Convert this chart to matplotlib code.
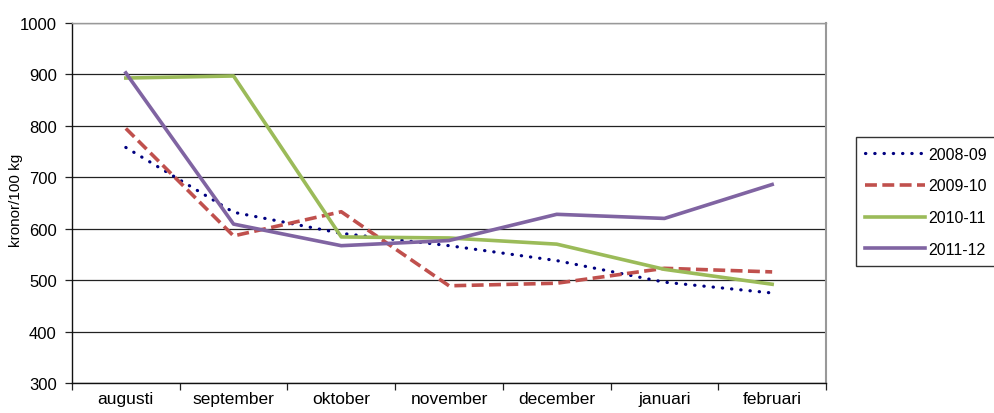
import matplotlib
matplotlib.use("Agg")
import matplotlib.pyplot as plt

plt.rcParams['font.family'] = ['Liberation Sans', 'DejaVu Sans']

months = ["augusti", "september", "oktober", "november", "december", "januari", "februari"]
s2008 = [758, 632, 591, 567, 538, 496, 475]
s2009 = [795, 586, 633, 489, 494, 523, 516]
s2010 = [893, 897, 584, 582, 570, 521, 492]
s2011 = [903, 609, 567, 577, 628, 620, 686]
y_ticks = [300, 400, 500, 600, 700, 800, 900, 1000]

fig = plt.figure(figsize=(9.94, 4.14), dpi=100)
ax = fig.add_axes([0.0724, 0.0725, 0.7586, 0.8695])

x = list(range(len(months)))
ax.plot(x, s2008, color="#000080", lw=2.3, linestyle=(0, (0.1, 2.8)),
        dash_capstyle="round", label="2008-09", zorder=3)
ax.plot(x, s2009, color="#C0504D", lw=2.6, linestyle=(0, (3.3, 1.5)),
        label="2009-10", zorder=3)
ax.plot(x, s2010, color="#9BBB59", lw=2.6, label="2010-11", zorder=3)
ax.plot(x, s2011, color="#8064A2", lw=2.6, label="2011-12", zorder=3)

ax.set_xlim(-0.5, len(months) - 0.5)
ax.set_ylim(300, 1000)
ax.set_yticks(y_ticks)
ax.set_yticklabels([str(v) for v in y_ticks], fontsize=12)
ax.grid(axis="y", color="#222222", lw=0.9, zorder=1)

# category labels centred, tick marks on category boundaries
ax.set_xticks([i - 0.5 for i in range(len(months) + 1)])
ax.set_xticklabels([])
ax.set_xticks(x, minor=True)
ax.set_xticklabels(months, minor=True, fontsize=12.5)
ax.tick_params(axis="x", which="minor", length=0, pad=6)
ax.tick_params(axis="x", which="major", length=5, width=0.9, color="#222222")
ax.tick_params(axis="y", length=5, width=0.9, color="#222222", pad=6)

for side in ["left", "bottom"]:
    ax.spines[side].set_color("#111111")
    ax.spines[side].set_linewidth(1.0)
ax.spines["right"].set_color("#999999")
ax.spines["right"].set_linewidth(1.5)
ax.spines["top"].set_color("#999999")
ax.spines["top"].set_linewidth(1.0)

ax.set_ylabel("kronor/100 kg", fontsize=11)
ax.yaxis.set_label_coords(-0.065, 0.511)

leg = fig.legend(loc="upper left", bbox_to_anchor=(0.861, 0.6667),
                 fontsize=11.5, frameon=True, fancybox=False, handlelength=3.75,
                 handletextpad=0.2, labelspacing=1.05, borderpad=0.6,
                 borderaxespad=0)
leg.get_frame().set_edgecolor("black")
leg.get_frame().set_linewidth(1.0)

fig.savefig("out.png", dpi=100)
